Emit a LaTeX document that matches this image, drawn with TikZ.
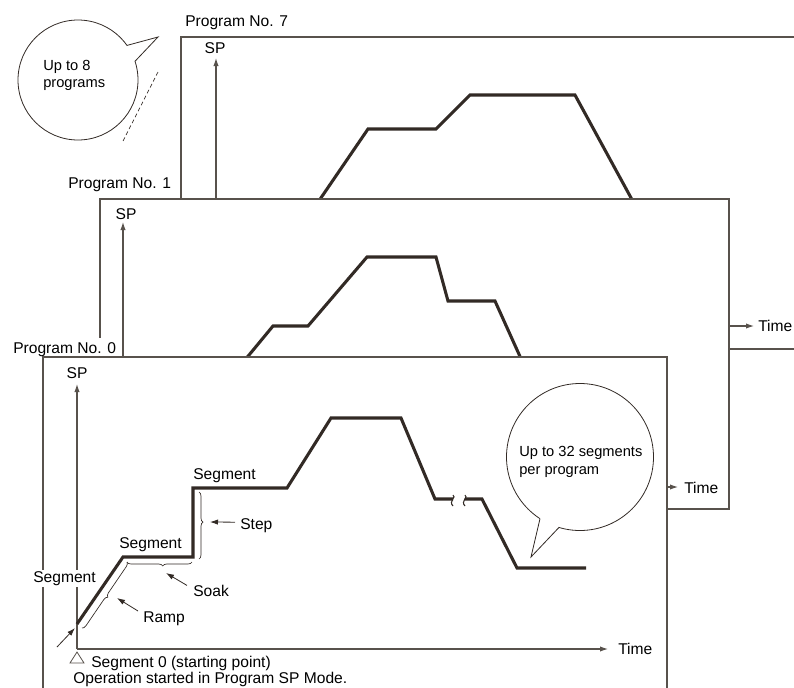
\documentclass[tikz,border=0pt]{standalone}
\usepackage{fontspec}
\setmainfont{Liberation Sans}
\usetikzlibrary{arrows.meta, decorations.pathreplacing}
\definecolor{perfilOscuro}{RGB}{50,42,37}
\definecolor{marcoGris}{RGB}{88,82,76}

\begin{document}
\begin{tikzpicture}[x=0.75pt, y=-0.75pt,
        marco/.style={draw=marcoGris, fill=white, line width=0.8pt},
        eje/.style={draw=marcoGris, line width=0.8pt, -{Latex[length=6pt, width=4pt]}},
        perfil/.style={draw=perfilOscuro, line width=2.3pt, line join=miter},
        etiq/.style={font=\fontsize{11.7}{14}\selectfont, inner sep=0pt, anchor=base west},
        globoTxt/.style={font=\fontsize{11}{13}\selectfont, inner sep=0pt, anchor=base west},
        llave/.style={decorate, decoration={brace, amplitude=3pt}, draw=perfilOscuro, line width=0.5pt},
        flecha/.style={draw=perfilOscuro, line width=0.6pt, -{Latex[length=6pt, width=4pt]}},
        globo/.style={draw=perfilOscuro, fill=white, line width=0.6pt}]
    \useasboundingbox (0,0) rectangle (794,687);

    % globo de programas
    \draw[globo] (78,80) circle[radius=60];
    \fill[white] (127,45.4) -- (158,37) -- (135,61.3) -- (118,62) -- cycle;
    \draw[perfilOscuro, line width=0.6pt] (127,45.4) -- (158,37) -- (135,61.3);
    \node[globoTxt] (globoA1) at (43,70) {Up to 8};
    \node[globoTxt] (globoA2) at (43,87) {programs};
    \draw[perfilOscuro, line width=0.5pt, dash pattern=on 3pt off 2pt] (158,72) -- (123,141);

    % programa 7
    \node[etiq] (prog7) at (185,26) {Program No. 7};
    \draw[marco] (181,37) rectangle (830,349);
    \draw[eje] (216,326) -- (216,58);
    \node[etiq, anchor=base] (sp7) at (215,53) {SP};
    \draw[eje] (216,326) -- (754,326);
    \node[etiq] (tiempo7) at (758,331) {Time};
    \draw[perfil] (299,230) -- (368,129) -- (436,129) -- (470,95) -- (575,95) -- (648,229);

    % programa 1
    \node[etiq] (prog1) at (68,188) {Program No. 1};
    \draw[marco] (100,199) rectangle (729,509);
    \draw[eje] (123,487) -- (123,222);
    \node[etiq, anchor=base] (sp1) at (126,219) {SP};
    \draw[eje] (123,487) -- (678,487);
    \node[etiq] (tiempo1) at (684,493) {Time};
    \draw[perfil] (235,372) -- (273,326) -- (308,326) -- (367,257) -- (436,257) -- (448,301) -- (495,301) -- (527,372);

    % programa 0
    \node[etiq, fill=white, inner ysep=3pt] (prog0) at (13,353) {Program No. 0};
    \draw[marco] (43,357) rectangle (667,710);
    \draw[eje] (77,649) -- (77,384);
    \node[etiq, anchor=base] (sp0) at (77,378) {SP};
    \draw[eje] (77,649) -- (608,649);
    \node[etiq] (tiempo0) at (618,654) {Time};
    \draw[perfil] (77,624) -- (123,557) -- (193,557) -- (193,488) -- (287,488) -- (331,418) -- (401,418) -- (435,499) -- (453,499);
    \draw[perfil] (465,499) -- (482,499) -- (517,568) -- (586,568);
    \foreach \bx in {453,465}
        \draw[perfilOscuro, line width=0.8pt] (\bx,495) .. controls (\bx+4,497) and (\bx-5,501) .. (\bx,506);

    % llaves
    \draw[llave] (127,562) -- (82,628);
    \draw[llave, decoration={aspect=0.45}] (192,562) -- (127,562);
    \draw[llave, decoration={aspect=0.45}] (199,492) -- (199,559);

    % etiquetas de segmentos
    \node[etiq, fill=white, inner ysep=1pt] (segA) at (33,582) {Segment};
    \node[etiq] (segB) at (119,548) {Segment};
    \node[etiq] (segC) at (193,479) {Segment};
    \node[etiq] (paso) at (240,529) {Step};
    \node[etiq] (remojo) at (193,596) {Soak};
    \node[etiq] (rampa) at (143,622) {Ramp};
    \node[etiq] (seg0) at (91,667) {Segment 0 (starting point)};
    \node[etiq] (operacion) at (73,683) {Operation started in Program SP Mode.};

    \coordinate (puntaPaso) at (210,522);
    \coordinate (puntaRemojo) at (166,573);
    \coordinate (puntaRampa) at (117,598);
    \coordinate (colaInicio) at (57,647);
    \coordinate (inicio) at (75,628);
    \draw[flecha] ([shift={(-5,-3)}]paso.west) -- (puntaPaso);
    \draw[flecha] ([shift={(-6,1)}]remojo.north west) -- (puntaRemojo);
    \draw[flecha] ([shift={(-5,0)}]rampa.north west) -- (puntaRampa);
    \draw[flecha] (colaInicio) -- (inicio);
    \draw[marcoGris, line width=0.6pt] (77,652) -- (84,663) -- (70,663) -- cycle;

    % globo de segmentos
    \draw[globo] (580,457) circle[radius=73.5];
    \fill[white] (540,518.7) -- (531,557) -- (559,527.4) -- (552,505) -- cycle;
    \draw[perfilOscuro, line width=0.6pt] (540,518.7) -- (531,557) -- (559,527.4);
    \node[globoTxt] (globoB1) at (519,456) {Up to 32 segments};
    \node[globoTxt] (globoB2) at (519,474) {per program};
\end{tikzpicture}
\end{document}
